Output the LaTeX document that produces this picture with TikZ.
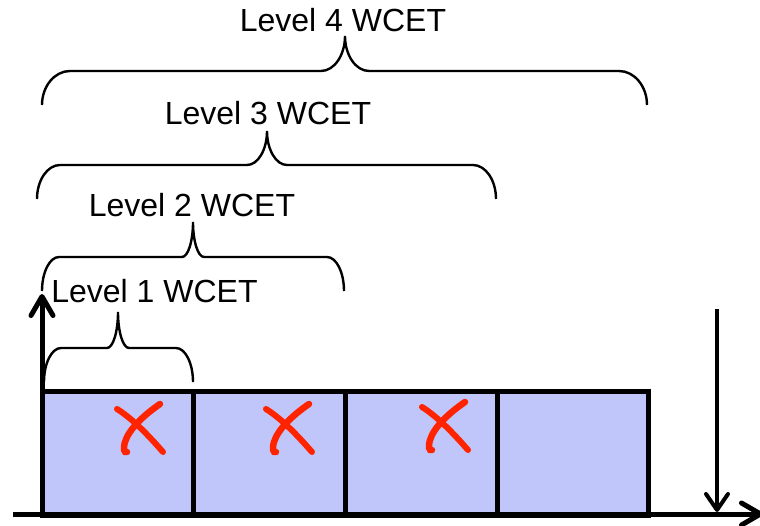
\documentclass[tikz,border=0pt]{standalone}
\usepackage{fontspec}
\setmainfont{Liberation Sans}
\usetikzlibrary{arrows.meta}

\definecolor{slotfill}{RGB}{192,197,250}
\definecolor{missred}{RGB}{255,35,0}

% curly brace over a span: x1, x2, y of the ends, y of the bar, x of the tip, y of the tip,
% corner width, tip half-width
\newcommand\wcetbrace[8]{%
  \draw[brace] (#1,#3) .. controls (#1,{#3-0.55*(#3-#4)}) and ({#1+0.45*#7},#4) .. ({#1+#7},#4)
    -- ({#5-#8},#4) .. controls ({#5-0.45*#8},#4) and (#5,{#6+0.55*(#4-#6)}) .. (#5,#6)
    .. controls (#5,{#6+0.55*(#4-#6)}) and ({#5+0.45*#8},#4) .. ({#5+#8},#4)
    -- ({#2-#7},#4) .. controls ({#2-0.45*#7},#4) and (#2,{#3-0.55*(#3-#4)}) .. (#2,#3);}

\tikzset{
  slot/.style={rectangle, draw=black, fill=slotfill, line width=5pt, inner sep=0pt,
    outer sep=0pt, minimum height=124pt},
  axis/.style={line width=5pt, line cap=butt},
  brace/.style={line width=2.4pt, line cap=butt},
  level/.style={anchor=base, inner sep=0pt, font=\fontsize{32}{38}\selectfont},
  barb/.style={-{Straight Barb[length=19pt, width=22pt, line cap=round, line join=round]}},
  miss/.pic={
    \draw[missred, line width=6pt, line cap=round]
      (-24,-21) .. controls (-8,-11) and (8,6) .. (22,22);
    \draw[missred, line width=6.5pt, line cap=round]
      (19,-26) .. controls (3,-15) and (-12,-1) .. (-16,12)
      .. controls (-18,19) and (-17,23) .. (-14,22);
  }
}

\begin{document}
\begin{tikzpicture}[x=1pt, y=-1pt]
\useasboundingbox (0,0) rectangle (760,526);

% time slots
\node[slot, minimum width=151pt] (b1) at (117.5,453) {};
\node[slot, minimum width=152pt] (b2) at (269,453) {};
\node[slot, minimum width=152pt] (b3) at (421,453) {};
\node[slot, minimum width=151pt] (b4) at (572.5,453) {};

% failed attempts
\pic at (141,430) {miss};
\pic at (290,430) {miss};
\pic at (446,428) {miss};

% axes and deadline
\coordinate (tstart) at (13,514);
\coordinate (tend) at (763,514);
\coordinate (origin) at (42,515);
\coordinate (ytop) at (42,294);
\coordinate (dtop) at (717,309);
\coordinate (dbot) at (717,512);
\draw[axis, barb] (tstart) -- (tend);
\draw[axis, barb] (origin) -- (ytop);
\draw[line width=4pt, -{Straight Barb[length=16pt, width=22pt, line cap=round, line join=round]}] (dtop) -- (dbot);

% WCET braces
\wcetbrace{44}{193}{382}{348}{118}{312}{17}{11}
\wcetbrace{42}{344}{291}{257}{193}{222}{17}{11}
\wcetbrace{37}{496}{199}{165}{267}{131}{23}{20}
\wcetbrace{42}{647}{105}{71}{345}{36}{28}{24}

% labels
\node[level] (l1) at (154.5,303) {Level 1 WCET};
\node[level] (l2) at (192,217) {Level 2 WCET};
\node[level] (l3) at (268,125) {Level 3 WCET};
\node[level] (l4) at (343,32) {Level 4 WCET};
\end{tikzpicture}
\end{document}
